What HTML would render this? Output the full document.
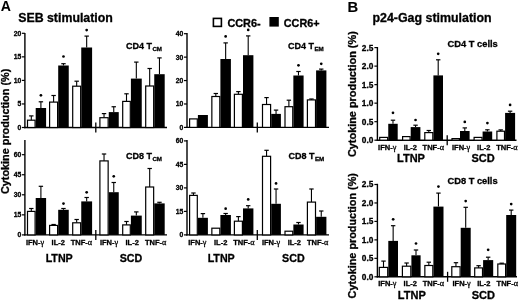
<!DOCTYPE html>
<html><head><meta charset="utf-8"><style>
html,body{margin:0;padding:0;background:#fff;width:520px;height:300px;overflow:hidden}
svg{display:block;filter:blur(0.35px);font-family:"Liberation Sans",sans-serif;font-weight:bold}
.g{font-family:"Liberation Serif",serif;font-weight:normal}
text{stroke:#000;stroke-width:0.3px;paint-order:stroke}
</style></head><body>
<svg width="520" height="300" viewBox="0 0 520 300" font-weight="bold" fill="#000">
<rect width="520" height="300" fill="#fff"/>
<text transform="translate(0.8,10.8) scale(0.93,1)" font-size="15.2" style="stroke-width:0">A</text>
<text x="18.2" y="22" font-size="12.35" text-anchor="start" >SEB stimulation</text>
<rect x="213.4" y="18.4" width="8" height="8" fill="#fff" stroke="#000" stroke-width="1.6"/>
<text x="227.4" y="27" font-size="10.9" text-anchor="start" >CCR6-</text>
<rect x="269.4" y="17" width="9.4" height="9.6" fill="#000"/>
<text x="283.8" y="27.3" font-size="10.8" text-anchor="start" >CCR6+</text>
<text transform="translate(9.2,131.4) rotate(-90)" x="0" y="0" font-size="10.85" text-anchor="middle">Cytokine production (%)</text>
<line x1="24.9" y1="33" x2="24.9" y2="128.2" stroke="#000" stroke-width="1.4"/>
<line x1="24.2" y1="127.5" x2="167" y2="127.5" stroke="#000" stroke-width="1.4"/>
<line x1="21.9" y1="127.50" x2="24.9" y2="127.50" stroke="#000" stroke-width="1.2"/>
<text x="21.3" y="129.95" font-size="6.8" text-anchor="end" >0</text>
<line x1="21.9" y1="103.95" x2="24.9" y2="103.95" stroke="#000" stroke-width="1.2"/>
<text x="21.3" y="106.40" font-size="6.8" text-anchor="end" >5</text>
<line x1="21.9" y1="80.40" x2="24.9" y2="80.40" stroke="#000" stroke-width="1.2"/>
<text x="21.3" y="82.85" font-size="6.8" text-anchor="end" >10</text>
<line x1="21.9" y1="56.85" x2="24.9" y2="56.85" stroke="#000" stroke-width="1.2"/>
<text x="21.3" y="59.30" font-size="6.8" text-anchor="end" >15</text>
<line x1="21.9" y1="33.30" x2="24.9" y2="33.30" stroke="#000" stroke-width="1.2"/>
<text x="21.3" y="35.75" font-size="6.8" text-anchor="end" >20</text>
<line x1="95.8" y1="122.5" x2="95.8" y2="132.5" stroke="#000" stroke-width="1.3"/>
<line x1="31.30" y1="115.9" x2="31.30" y2="120.2" stroke="#000" stroke-width="1.1"/>
<line x1="29.10" y1="115.9" x2="33.50" y2="115.9" stroke="#000" stroke-width="1.2"/>
<rect x="27.50" y="120.20" width="7.60" height="7.30" fill="#fff" stroke="#000" stroke-width="1.2"/>
<line x1="40.90" y1="101.8" x2="40.90" y2="108" stroke="#000" stroke-width="1.1"/>
<line x1="38.70" y1="101.8" x2="43.10" y2="101.8" stroke="#000" stroke-width="1.2"/>
<rect x="35.70" y="108.00" width="10.40" height="19.50" fill="#000"/>
<circle cx="40.90" cy="95.3" r="1.35"/>
<line x1="53.60" y1="95.5" x2="53.60" y2="102.10000000000001" stroke="#000" stroke-width="1.1"/>
<line x1="51.40" y1="95.5" x2="55.80" y2="95.5" stroke="#000" stroke-width="1.2"/>
<rect x="49.60" y="102.10" width="8.00" height="25.40" fill="#fff" stroke="#000" stroke-width="1.2"/>
<line x1="63.48" y1="63.7" x2="63.48" y2="65.5" stroke="#000" stroke-width="1.1"/>
<line x1="61.27" y1="63.7" x2="65.67" y2="63.7" stroke="#000" stroke-width="1.2"/>
<rect x="58.20" y="65.50" width="10.55" height="62.00" fill="#000"/>
<circle cx="63.48" cy="56.5" r="1.35"/>
<line x1="76.67" y1="81.2" x2="76.67" y2="86.2" stroke="#000" stroke-width="1.1"/>
<line x1="74.47" y1="81.2" x2="78.88" y2="81.2" stroke="#000" stroke-width="1.2"/>
<rect x="72.70" y="86.20" width="7.95" height="41.30" fill="#fff" stroke="#000" stroke-width="1.2"/>
<line x1="86.67" y1="36.1" x2="86.67" y2="47.5" stroke="#000" stroke-width="1.1"/>
<line x1="84.47" y1="36.1" x2="88.88" y2="36.1" stroke="#000" stroke-width="1.2"/>
<rect x="81.25" y="47.50" width="10.85" height="80.00" fill="#000"/>
<circle cx="86.67" cy="30.1" r="1.35"/>
<line x1="104.03" y1="113.6" x2="104.03" y2="117.7" stroke="#000" stroke-width="1.1"/>
<line x1="101.83" y1="113.6" x2="106.23" y2="113.6" stroke="#000" stroke-width="1.2"/>
<rect x="99.90" y="117.70" width="8.25" height="9.80" fill="#fff" stroke="#000" stroke-width="1.2"/>
<line x1="113.75" y1="106.75" x2="113.75" y2="112.1" stroke="#000" stroke-width="1.1"/>
<line x1="111.55" y1="106.75" x2="115.95" y2="106.75" stroke="#000" stroke-width="1.2"/>
<rect x="108.75" y="112.10" width="10.00" height="15.40" fill="#000"/>
<line x1="126.50" y1="93.8" x2="126.50" y2="101.4" stroke="#000" stroke-width="1.1"/>
<line x1="124.30" y1="93.8" x2="128.70" y2="93.8" stroke="#000" stroke-width="1.2"/>
<rect x="122.70" y="101.40" width="7.60" height="26.10" fill="#fff" stroke="#000" stroke-width="1.2"/>
<line x1="136.32" y1="62.1" x2="136.32" y2="78.6" stroke="#000" stroke-width="1.1"/>
<line x1="134.12" y1="62.1" x2="138.52" y2="62.1" stroke="#000" stroke-width="1.2"/>
<rect x="130.90" y="78.60" width="10.85" height="48.90" fill="#000"/>
<line x1="149.68" y1="68.5" x2="149.68" y2="86.0" stroke="#000" stroke-width="1.1"/>
<line x1="147.48" y1="68.5" x2="151.88" y2="68.5" stroke="#000" stroke-width="1.2"/>
<rect x="145.70" y="86.00" width="7.95" height="41.50" fill="#fff" stroke="#000" stroke-width="1.2"/>
<line x1="159.47" y1="57.9" x2="159.47" y2="74.2" stroke="#000" stroke-width="1.1"/>
<line x1="157.28" y1="57.9" x2="161.67" y2="57.9" stroke="#000" stroke-width="1.2"/>
<rect x="154.25" y="74.20" width="10.45" height="53.30" fill="#000"/>
<text x="126" y="49" font-size="9">CD4 T<tspan font-size="6.2" dy="2.4" dx="0.4">CM</tspan></text>
<line x1="187" y1="33" x2="187" y2="128.1" stroke="#000" stroke-width="1.4"/>
<line x1="186.3" y1="127.4" x2="329" y2="127.4" stroke="#000" stroke-width="1.4"/>
<line x1="184" y1="127.40" x2="187" y2="127.40" stroke="#000" stroke-width="1.2"/>
<text x="183.2" y="129.85" font-size="6.8" text-anchor="end" >0</text>
<line x1="184" y1="103.98" x2="187" y2="103.98" stroke="#000" stroke-width="1.2"/>
<text x="183.2" y="106.42" font-size="6.8" text-anchor="end" >10</text>
<line x1="184" y1="80.55" x2="187" y2="80.55" stroke="#000" stroke-width="1.2"/>
<text x="183.2" y="83.00" font-size="6.8" text-anchor="end" >20</text>
<line x1="184" y1="57.13" x2="187" y2="57.13" stroke="#000" stroke-width="1.2"/>
<text x="183.2" y="59.57" font-size="6.8" text-anchor="end" >30</text>
<line x1="184" y1="33.70" x2="187" y2="33.70" stroke="#000" stroke-width="1.2"/>
<text x="183.2" y="36.15" font-size="6.8" text-anchor="end" >40</text>
<line x1="257.3" y1="122.4" x2="257.3" y2="132.4" stroke="#000" stroke-width="1.3"/>
<rect x="189.60" y="118.90" width="7.70" height="8.50" fill="#fff" stroke="#000" stroke-width="1.2"/>
<rect x="197.90" y="115.00" width="10.00" height="12.40" fill="#000"/>
<line x1="215.82" y1="93.5" x2="215.82" y2="96.5" stroke="#000" stroke-width="1.1"/>
<line x1="213.62" y1="93.5" x2="218.02" y2="93.5" stroke="#000" stroke-width="1.2"/>
<rect x="211.85" y="96.50" width="7.95" height="30.90" fill="#fff" stroke="#000" stroke-width="1.2"/>
<line x1="225.65" y1="42.9" x2="225.65" y2="59" stroke="#000" stroke-width="1.1"/>
<line x1="223.45" y1="42.9" x2="227.85" y2="42.9" stroke="#000" stroke-width="1.2"/>
<rect x="220.40" y="59.00" width="10.50" height="68.40" fill="#000"/>
<circle cx="225.65" cy="36.4" r="1.35"/>
<line x1="238.40" y1="91.6" x2="238.40" y2="94.30000000000001" stroke="#000" stroke-width="1.1"/>
<line x1="236.20" y1="91.6" x2="240.60" y2="91.6" stroke="#000" stroke-width="1.2"/>
<rect x="234.40" y="94.30" width="8.00" height="33.10" fill="#fff" stroke="#000" stroke-width="1.2"/>
<line x1="248.20" y1="35.9" x2="248.20" y2="55.2" stroke="#000" stroke-width="1.1"/>
<line x1="246.00" y1="35.9" x2="250.40" y2="35.9" stroke="#000" stroke-width="1.2"/>
<rect x="243.00" y="55.20" width="10.40" height="72.20" fill="#000"/>
<circle cx="248.20" cy="29.900000000000002" r="1.35"/>
<line x1="266.55" y1="97.6" x2="266.55" y2="104.5" stroke="#000" stroke-width="1.1"/>
<line x1="264.35" y1="97.6" x2="268.75" y2="97.6" stroke="#000" stroke-width="1.2"/>
<rect x="262.50" y="104.50" width="8.10" height="22.90" fill="#fff" stroke="#000" stroke-width="1.2"/>
<line x1="276.05" y1="110.1" x2="276.05" y2="113.9" stroke="#000" stroke-width="1.1"/>
<line x1="273.85" y1="110.1" x2="278.25" y2="110.1" stroke="#000" stroke-width="1.2"/>
<rect x="271.20" y="113.90" width="9.70" height="13.50" fill="#000"/>
<line x1="288.88" y1="100.2" x2="288.88" y2="106.7" stroke="#000" stroke-width="1.1"/>
<line x1="286.68" y1="100.2" x2="291.07" y2="100.2" stroke="#000" stroke-width="1.2"/>
<rect x="285.00" y="106.70" width="7.75" height="20.70" fill="#fff" stroke="#000" stroke-width="1.2"/>
<line x1="298.48" y1="71.5" x2="298.48" y2="75.5" stroke="#000" stroke-width="1.1"/>
<line x1="296.28" y1="71.5" x2="300.68" y2="71.5" stroke="#000" stroke-width="1.2"/>
<rect x="293.35" y="75.50" width="10.25" height="51.90" fill="#000"/>
<circle cx="298.48" cy="65.3" r="1.35"/>
<line x1="311.45" y1="99.0" x2="311.45" y2="99.9" stroke="#000" stroke-width="1.1"/>
<line x1="309.25" y1="99.0" x2="313.65" y2="99.0" stroke="#000" stroke-width="1.2"/>
<rect x="307.40" y="99.90" width="8.10" height="27.50" fill="#fff" stroke="#000" stroke-width="1.2"/>
<line x1="321.25" y1="69.1" x2="321.25" y2="70.4" stroke="#000" stroke-width="1.1"/>
<line x1="319.05" y1="69.1" x2="323.45" y2="69.1" stroke="#000" stroke-width="1.2"/>
<rect x="316.10" y="70.40" width="10.30" height="57.00" fill="#000"/>
<circle cx="321.25" cy="63.8" r="1.35"/>
<text x="288" y="49" font-size="9">CD4 T<tspan font-size="6.2" dy="2.4" dx="0.4">EM</tspan></text>
<line x1="24.9" y1="140" x2="24.9" y2="235.6" stroke="#000" stroke-width="1.4"/>
<line x1="24.2" y1="234.9" x2="167" y2="234.9" stroke="#000" stroke-width="1.4"/>
<line x1="21.9" y1="234.90" x2="24.9" y2="234.90" stroke="#000" stroke-width="1.2"/>
<text x="21.3" y="237.35" font-size="6.8" text-anchor="end" >0</text>
<line x1="21.9" y1="214.85" x2="24.9" y2="214.85" stroke="#000" stroke-width="1.2"/>
<text x="21.3" y="217.30" font-size="6.8" text-anchor="end" >15</text>
<line x1="21.9" y1="194.80" x2="24.9" y2="194.80" stroke="#000" stroke-width="1.2"/>
<text x="21.3" y="197.25" font-size="6.8" text-anchor="end" >30</text>
<line x1="21.9" y1="174.75" x2="24.9" y2="174.75" stroke="#000" stroke-width="1.2"/>
<text x="21.3" y="177.20" font-size="6.8" text-anchor="end" >45</text>
<line x1="21.9" y1="154.70" x2="24.9" y2="154.70" stroke="#000" stroke-width="1.2"/>
<text x="21.3" y="157.15" font-size="6.8" text-anchor="end" >60</text>
<line x1="95.8" y1="229.9" x2="95.8" y2="239.9" stroke="#000" stroke-width="1.3"/>
<line x1="31.30" y1="208.5" x2="31.30" y2="211.4" stroke="#000" stroke-width="1.1"/>
<line x1="29.10" y1="208.5" x2="33.50" y2="208.5" stroke="#000" stroke-width="1.2"/>
<rect x="27.50" y="211.40" width="7.60" height="23.50" fill="#fff" stroke="#000" stroke-width="1.2"/>
<line x1="40.90" y1="186.3" x2="40.90" y2="198" stroke="#000" stroke-width="1.1"/>
<line x1="38.70" y1="186.3" x2="43.10" y2="186.3" stroke="#000" stroke-width="1.2"/>
<rect x="35.70" y="198.00" width="10.40" height="36.90" fill="#000"/>
<line x1="53.60" y1="224.5" x2="53.60" y2="225.4" stroke="#000" stroke-width="1.1"/>
<line x1="51.40" y1="224.5" x2="55.80" y2="224.5" stroke="#000" stroke-width="1.2"/>
<rect x="49.60" y="225.40" width="8.00" height="9.50" fill="#fff" stroke="#000" stroke-width="1.2"/>
<line x1="63.48" y1="208.5" x2="63.48" y2="209.8" stroke="#000" stroke-width="1.1"/>
<line x1="61.27" y1="208.5" x2="65.67" y2="208.5" stroke="#000" stroke-width="1.2"/>
<rect x="58.20" y="209.80" width="10.55" height="25.10" fill="#000"/>
<circle cx="63.48" cy="203.60000000000002" r="1.35"/>
<line x1="76.67" y1="219.5" x2="76.67" y2="222.8" stroke="#000" stroke-width="1.1"/>
<line x1="74.47" y1="219.5" x2="78.88" y2="219.5" stroke="#000" stroke-width="1.2"/>
<rect x="72.70" y="222.80" width="7.95" height="12.10" fill="#fff" stroke="#000" stroke-width="1.2"/>
<line x1="86.67" y1="197.5" x2="86.67" y2="201.4" stroke="#000" stroke-width="1.1"/>
<line x1="84.47" y1="197.5" x2="88.88" y2="197.5" stroke="#000" stroke-width="1.2"/>
<rect x="81.25" y="201.40" width="10.85" height="33.50" fill="#000"/>
<circle cx="86.67" cy="192.3" r="1.35"/>
<line x1="104.03" y1="154.0" x2="104.03" y2="160.9" stroke="#000" stroke-width="1.1"/>
<line x1="101.83" y1="154.0" x2="106.23" y2="154.0" stroke="#000" stroke-width="1.2"/>
<rect x="99.90" y="160.90" width="8.25" height="74.00" fill="#fff" stroke="#000" stroke-width="1.2"/>
<line x1="113.75" y1="182.5" x2="113.75" y2="192.2" stroke="#000" stroke-width="1.1"/>
<line x1="111.55" y1="182.5" x2="115.95" y2="182.5" stroke="#000" stroke-width="1.2"/>
<rect x="108.75" y="192.20" width="10.00" height="42.70" fill="#000"/>
<circle cx="113.75" cy="176.3" r="1.35"/>
<line x1="126.50" y1="221.5" x2="126.50" y2="224.9" stroke="#000" stroke-width="1.1"/>
<line x1="124.30" y1="221.5" x2="128.70" y2="221.5" stroke="#000" stroke-width="1.2"/>
<rect x="122.70" y="224.90" width="7.60" height="10.00" fill="#fff" stroke="#000" stroke-width="1.2"/>
<line x1="136.32" y1="211.9" x2="136.32" y2="215.6" stroke="#000" stroke-width="1.1"/>
<line x1="134.12" y1="211.9" x2="138.52" y2="211.9" stroke="#000" stroke-width="1.2"/>
<rect x="130.90" y="215.60" width="10.85" height="19.30" fill="#000"/>
<line x1="149.68" y1="168.5" x2="149.68" y2="187.0" stroke="#000" stroke-width="1.1"/>
<line x1="147.48" y1="168.5" x2="151.88" y2="168.5" stroke="#000" stroke-width="1.2"/>
<rect x="145.70" y="187.00" width="7.95" height="47.90" fill="#fff" stroke="#000" stroke-width="1.2"/>
<line x1="159.47" y1="202.3" x2="159.47" y2="203.4" stroke="#000" stroke-width="1.1"/>
<line x1="157.28" y1="202.3" x2="161.67" y2="202.3" stroke="#000" stroke-width="1.2"/>
<rect x="154.25" y="203.40" width="10.45" height="31.50" fill="#000"/>
<text x="35.00" y="244.6" font-size="7.5" text-anchor="middle" >IFN-<tspan class="g" font-size="1.1em">γ</tspan></text>
<text x="58.25" y="244.6" font-size="7.5" text-anchor="middle" >IL-2</text>
<text x="81.40" y="244.6" font-size="7.5" text-anchor="middle" >TNF-<tspan class="g" font-size="1.1em">α</tspan></text>
<text x="109.05" y="244.6" font-size="7.5" text-anchor="middle" >IFN-<tspan class="g" font-size="1.1em">γ</tspan></text>
<text x="132.15" y="244.6" font-size="7.5" text-anchor="middle" >IL-2</text>
<text x="155.60" y="244.6" font-size="7.5" text-anchor="middle" >TNF-<tspan class="g" font-size="1.1em">α</tspan></text>
<text x="59.20" y="262.3" font-size="10.7" text-anchor="middle" >LTNP</text>
<text x="131.00" y="262.3" font-size="10.7" text-anchor="middle" >SCD</text>
<text x="126" y="159" font-size="9">CD8 T<tspan font-size="6.2" dy="2.4" dx="0.4">CM</tspan></text>
<line x1="187" y1="140" x2="187" y2="235.6" stroke="#000" stroke-width="1.4"/>
<line x1="186.3" y1="234.9" x2="329" y2="234.9" stroke="#000" stroke-width="1.4"/>
<line x1="184" y1="234.90" x2="187" y2="234.90" stroke="#000" stroke-width="1.2"/>
<text x="183.2" y="237.35" font-size="6.8" text-anchor="end" >0</text>
<line x1="184" y1="211.40" x2="187" y2="211.40" stroke="#000" stroke-width="1.2"/>
<text x="183.2" y="213.85" font-size="6.8" text-anchor="end" >15</text>
<line x1="184" y1="187.90" x2="187" y2="187.90" stroke="#000" stroke-width="1.2"/>
<text x="183.2" y="190.35" font-size="6.8" text-anchor="end" >30</text>
<line x1="184" y1="164.40" x2="187" y2="164.40" stroke="#000" stroke-width="1.2"/>
<text x="183.2" y="166.85" font-size="6.8" text-anchor="end" >45</text>
<line x1="184" y1="140.90" x2="187" y2="140.90" stroke="#000" stroke-width="1.2"/>
<text x="183.2" y="143.35" font-size="6.8" text-anchor="end" >60</text>
<line x1="257.3" y1="229.9" x2="257.3" y2="239.9" stroke="#000" stroke-width="1.3"/>
<line x1="193.45" y1="193.0" x2="193.45" y2="195.4" stroke="#000" stroke-width="1.1"/>
<line x1="191.25" y1="193.0" x2="195.65" y2="193.0" stroke="#000" stroke-width="1.2"/>
<rect x="189.60" y="195.40" width="7.70" height="39.50" fill="#fff" stroke="#000" stroke-width="1.2"/>
<line x1="202.90" y1="213.6" x2="202.90" y2="217.8" stroke="#000" stroke-width="1.1"/>
<line x1="200.70" y1="213.6" x2="205.10" y2="213.6" stroke="#000" stroke-width="1.2"/>
<rect x="197.90" y="217.80" width="10.00" height="17.10" fill="#000"/>
<rect x="211.85" y="228.20" width="7.95" height="6.70" fill="#fff" stroke="#000" stroke-width="1.2"/>
<line x1="225.65" y1="213.5" x2="225.65" y2="215" stroke="#000" stroke-width="1.1"/>
<line x1="223.45" y1="213.5" x2="227.85" y2="213.5" stroke="#000" stroke-width="1.2"/>
<rect x="220.40" y="215.00" width="10.50" height="19.90" fill="#000"/>
<circle cx="225.65" cy="208.70000000000002" r="1.35"/>
<line x1="238.40" y1="216.6" x2="238.40" y2="221.20000000000002" stroke="#000" stroke-width="1.1"/>
<line x1="236.20" y1="216.6" x2="240.60" y2="216.6" stroke="#000" stroke-width="1.2"/>
<rect x="234.40" y="221.20" width="8.00" height="13.70" fill="#fff" stroke="#000" stroke-width="1.2"/>
<line x1="248.20" y1="205.7" x2="248.20" y2="208.4" stroke="#000" stroke-width="1.1"/>
<line x1="246.00" y1="205.7" x2="250.40" y2="205.7" stroke="#000" stroke-width="1.2"/>
<rect x="243.00" y="208.40" width="10.40" height="26.50" fill="#000"/>
<circle cx="248.20" cy="199.4" r="1.35"/>
<line x1="266.55" y1="150.3" x2="266.55" y2="156.3" stroke="#000" stroke-width="1.1"/>
<line x1="264.35" y1="150.3" x2="268.75" y2="150.3" stroke="#000" stroke-width="1.2"/>
<rect x="262.50" y="156.30" width="8.10" height="78.60" fill="#fff" stroke="#000" stroke-width="1.2"/>
<line x1="276.05" y1="189.0" x2="276.05" y2="203.8" stroke="#000" stroke-width="1.1"/>
<line x1="273.85" y1="189.0" x2="278.25" y2="189.0" stroke="#000" stroke-width="1.2"/>
<rect x="271.20" y="203.80" width="9.70" height="31.10" fill="#000"/>
<circle cx="276.05" cy="183.4" r="1.35"/>
<rect x="285.00" y="231.20" width="7.75" height="3.70" fill="#fff" stroke="#000" stroke-width="1.2"/>
<line x1="298.48" y1="222.5" x2="298.48" y2="224.5" stroke="#000" stroke-width="1.1"/>
<line x1="296.28" y1="222.5" x2="300.68" y2="222.5" stroke="#000" stroke-width="1.2"/>
<rect x="293.35" y="224.50" width="10.25" height="10.40" fill="#000"/>
<line x1="311.45" y1="189.0" x2="311.45" y2="202.1" stroke="#000" stroke-width="1.1"/>
<line x1="309.25" y1="189.0" x2="313.65" y2="189.0" stroke="#000" stroke-width="1.2"/>
<rect x="307.40" y="202.10" width="8.10" height="32.80" fill="#fff" stroke="#000" stroke-width="1.2"/>
<line x1="321.25" y1="211.0" x2="321.25" y2="216.8" stroke="#000" stroke-width="1.1"/>
<line x1="319.05" y1="211.0" x2="323.45" y2="211.0" stroke="#000" stroke-width="1.2"/>
<rect x="316.10" y="216.80" width="10.30" height="18.10" fill="#000"/>
<text x="197.35" y="244.6" font-size="7.5" text-anchor="middle" >IFN-<tspan class="g" font-size="1.1em">γ</tspan></text>
<text x="220.65" y="244.6" font-size="7.5" text-anchor="middle" >IL-2</text>
<text x="243.90" y="244.6" font-size="7.5" text-anchor="middle" >TNF-<tspan class="g" font-size="1.1em">α</tspan></text>
<text x="271.05" y="244.6" font-size="7.5" text-anchor="middle" >IFN-<tspan class="g" font-size="1.1em">γ</tspan></text>
<text x="294.35" y="244.6" font-size="7.5" text-anchor="middle" >IL-2</text>
<text x="317.60" y="244.6" font-size="7.5" text-anchor="middle" >TNF-<tspan class="g" font-size="1.1em">α</tspan></text>
<text x="221.20" y="262.3" font-size="10.7" text-anchor="middle" >LTNP</text>
<text x="293.40" y="262.3" font-size="10.7" text-anchor="middle" >SCD</text>
<text x="288.5" y="159" font-size="9">CD8 T<tspan font-size="6.2" dy="2.4" dx="0.4">EM</tspan></text>
<text x="347.4" y="11.5" font-size="14.8" style="stroke-width:0.1px">B</text>
<text x="372.5" y="22" font-size="12.4" text-anchor="start" >p24-Gag stimulation</text>
<text transform="translate(356.4,94.15) rotate(-90)" x="0" y="0" font-size="10.9" text-anchor="middle">Cytokine production (%)</text>
<text transform="translate(356.4,235.75) rotate(-90)" x="0" y="0" font-size="10.85" text-anchor="middle">Cytokine production (%)</text>
<line x1="377.4" y1="47" x2="377.4" y2="140.89999999999998" stroke="#000" stroke-width="1.4"/>
<line x1="376.7" y1="140.2" x2="516.5" y2="140.2" stroke="#000" stroke-width="1.4"/>
<line x1="374.4" y1="140.20" x2="377.4" y2="140.20" stroke="#000" stroke-width="1.2"/>
<text x="373.4" y="143.19" font-size="8.3" text-anchor="end" >0.0</text>
<line x1="374.4" y1="121.68" x2="377.4" y2="121.68" stroke="#000" stroke-width="1.2"/>
<text x="373.4" y="124.67" font-size="8.3" text-anchor="end" >0.5</text>
<line x1="374.4" y1="103.16" x2="377.4" y2="103.16" stroke="#000" stroke-width="1.2"/>
<text x="373.4" y="106.15" font-size="8.3" text-anchor="end" >1.0</text>
<line x1="374.4" y1="84.64" x2="377.4" y2="84.64" stroke="#000" stroke-width="1.2"/>
<text x="373.4" y="87.63" font-size="8.3" text-anchor="end" >1.5</text>
<line x1="374.4" y1="66.12" x2="377.4" y2="66.12" stroke="#000" stroke-width="1.2"/>
<text x="373.4" y="69.11" font-size="8.3" text-anchor="end" >2.0</text>
<line x1="374.4" y1="47.60" x2="377.4" y2="47.60" stroke="#000" stroke-width="1.2"/>
<text x="373.4" y="50.59" font-size="8.3" text-anchor="end" >2.5</text>
<line x1="447.2" y1="135.2" x2="447.2" y2="145.2" stroke="#000" stroke-width="1.3"/>
<rect x="379.70" y="137.40" width="7.95" height="2.80" fill="#fff" stroke="#000" stroke-width="1.2"/>
<line x1="392.98" y1="120.2" x2="392.98" y2="123.8" stroke="#000" stroke-width="1.1"/>
<line x1="390.78" y1="120.2" x2="395.18" y2="120.2" stroke="#000" stroke-width="1.2"/>
<rect x="388.25" y="123.80" width="9.45" height="16.40" fill="#000"/>
<circle cx="392.98" cy="112.8" r="1.35"/>
<rect x="402.60" y="136.60" width="7.50" height="3.60" fill="#fff" stroke="#000" stroke-width="1.2"/>
<line x1="415.55" y1="125.2" x2="415.55" y2="127.1" stroke="#000" stroke-width="1.1"/>
<line x1="413.35" y1="125.2" x2="417.75" y2="125.2" stroke="#000" stroke-width="1.2"/>
<rect x="410.70" y="127.10" width="9.70" height="13.10" fill="#000"/>
<circle cx="415.55" cy="120.0" r="1.35"/>
<line x1="428.80" y1="130.5" x2="428.80" y2="132.6" stroke="#000" stroke-width="1.1"/>
<line x1="426.60" y1="130.5" x2="431.00" y2="130.5" stroke="#000" stroke-width="1.2"/>
<rect x="424.80" y="132.60" width="8.00" height="7.60" fill="#fff" stroke="#000" stroke-width="1.2"/>
<line x1="438.20" y1="59.8" x2="438.20" y2="75.4" stroke="#000" stroke-width="1.1"/>
<line x1="436.00" y1="59.8" x2="440.40" y2="59.8" stroke="#000" stroke-width="1.2"/>
<rect x="433.40" y="75.40" width="9.60" height="64.80" fill="#000"/>
<circle cx="438.20" cy="53.8" r="1.35"/>
<rect x="452.00" y="138.60" width="7.40" height="1.60" fill="#fff" stroke="#000" stroke-width="1.2"/>
<line x1="464.80" y1="127.9" x2="464.80" y2="131" stroke="#000" stroke-width="1.1"/>
<line x1="462.60" y1="127.9" x2="467.00" y2="127.9" stroke="#000" stroke-width="1.2"/>
<rect x="460.00" y="131.00" width="9.60" height="9.20" fill="#000"/>
<circle cx="464.80" cy="121.89999999999999" r="1.35"/>
<rect x="474.10" y="137.40" width="7.90" height="2.80" fill="#fff" stroke="#000" stroke-width="1.2"/>
<line x1="487.40" y1="129.8" x2="487.40" y2="131.5" stroke="#000" stroke-width="1.1"/>
<line x1="485.20" y1="129.8" x2="489.60" y2="129.8" stroke="#000" stroke-width="1.2"/>
<rect x="482.60" y="131.50" width="9.60" height="8.70" fill="#000"/>
<circle cx="487.40" cy="123.1" r="1.35"/>
<line x1="500.70" y1="129.9" x2="500.70" y2="131.20000000000002" stroke="#000" stroke-width="1.1"/>
<line x1="498.50" y1="129.9" x2="502.90" y2="129.9" stroke="#000" stroke-width="1.2"/>
<rect x="496.90" y="131.20" width="7.60" height="9.00" fill="#fff" stroke="#000" stroke-width="1.2"/>
<line x1="510.10" y1="111.2" x2="510.10" y2="112.9" stroke="#000" stroke-width="1.1"/>
<line x1="507.90" y1="111.2" x2="512.30" y2="111.2" stroke="#000" stroke-width="1.2"/>
<rect x="505.10" y="112.90" width="10.00" height="27.30" fill="#000"/>
<circle cx="510.10" cy="104.89999999999999" r="1.35"/>
<text x="387.20" y="149.8" font-size="7.5" text-anchor="middle" >IFN-<tspan class="g" font-size="1.1em">γ</tspan></text>
<text x="410.30" y="149.8" font-size="7.5" text-anchor="middle" >IL-2</text>
<text x="433.30" y="149.8" font-size="7.5" text-anchor="middle" >TNF-<tspan class="g" font-size="1.1em">α</tspan></text>
<text x="461.10" y="149.8" font-size="7.5" text-anchor="middle" >IFN-<tspan class="g" font-size="1.1em">γ</tspan></text>
<text x="483.75" y="149.8" font-size="7.5" text-anchor="middle" >IL-2</text>
<text x="506.85" y="149.8" font-size="7.5" text-anchor="middle" >TNF-<tspan class="g" font-size="1.1em">α</tspan></text>
<text x="411.00" y="161.6" font-size="11" text-anchor="middle" >LTNP</text>
<text x="483.00" y="161.6" font-size="11" text-anchor="middle" >SCD</text>
<text x="447.6" y="47.4" font-size="9.3">CD4 T cells</text>
<line x1="377.4" y1="183.8" x2="377.4" y2="277.5" stroke="#000" stroke-width="1.4"/>
<line x1="376.7" y1="276.8" x2="517" y2="276.8" stroke="#000" stroke-width="1.4"/>
<line x1="374.4" y1="276.80" x2="377.4" y2="276.80" stroke="#000" stroke-width="1.2"/>
<text x="373.4" y="279.79" font-size="8.3" text-anchor="end" >0.0</text>
<line x1="374.4" y1="258.34" x2="377.4" y2="258.34" stroke="#000" stroke-width="1.2"/>
<text x="373.4" y="261.33" font-size="8.3" text-anchor="end" >0.5</text>
<line x1="374.4" y1="239.88" x2="377.4" y2="239.88" stroke="#000" stroke-width="1.2"/>
<text x="373.4" y="242.87" font-size="8.3" text-anchor="end" >1.0</text>
<line x1="374.4" y1="221.42" x2="377.4" y2="221.42" stroke="#000" stroke-width="1.2"/>
<text x="373.4" y="224.41" font-size="8.3" text-anchor="end" >1.5</text>
<line x1="374.4" y1="202.96" x2="377.4" y2="202.96" stroke="#000" stroke-width="1.2"/>
<text x="373.4" y="205.95" font-size="8.3" text-anchor="end" >2.0</text>
<line x1="374.4" y1="184.50" x2="377.4" y2="184.50" stroke="#000" stroke-width="1.2"/>
<text x="373.4" y="187.49" font-size="8.3" text-anchor="end" >2.5</text>
<line x1="447.6" y1="271.8" x2="447.6" y2="281.8" stroke="#000" stroke-width="1.3"/>
<line x1="383.50" y1="261.1" x2="383.50" y2="267.4" stroke="#000" stroke-width="1.1"/>
<line x1="381.30" y1="261.1" x2="385.70" y2="261.1" stroke="#000" stroke-width="1.2"/>
<rect x="379.30" y="267.40" width="8.40" height="9.40" fill="#fff" stroke="#000" stroke-width="1.2"/>
<line x1="393.15" y1="225.7" x2="393.15" y2="240.9" stroke="#000" stroke-width="1.1"/>
<line x1="390.95" y1="225.7" x2="395.35" y2="225.7" stroke="#000" stroke-width="1.2"/>
<rect x="388.30" y="240.90" width="9.70" height="35.90" fill="#000"/>
<circle cx="393.15" cy="219.3" r="1.35"/>
<line x1="406.60" y1="263.0" x2="406.60" y2="266.2" stroke="#000" stroke-width="1.1"/>
<line x1="404.40" y1="263.0" x2="408.80" y2="263.0" stroke="#000" stroke-width="1.2"/>
<rect x="402.40" y="266.20" width="8.40" height="10.60" fill="#fff" stroke="#000" stroke-width="1.2"/>
<line x1="416.00" y1="250.0" x2="416.00" y2="255.3" stroke="#000" stroke-width="1.1"/>
<line x1="413.80" y1="250.0" x2="418.20" y2="250.0" stroke="#000" stroke-width="1.2"/>
<rect x="411.40" y="255.30" width="9.20" height="21.50" fill="#000"/>
<circle cx="416.00" cy="243.5" r="1.35"/>
<line x1="428.82" y1="262.2" x2="428.82" y2="265.5" stroke="#000" stroke-width="1.1"/>
<line x1="426.62" y1="262.2" x2="431.02" y2="262.2" stroke="#000" stroke-width="1.2"/>
<rect x="424.85" y="265.50" width="7.95" height="11.30" fill="#fff" stroke="#000" stroke-width="1.2"/>
<line x1="438.45" y1="193.1" x2="438.45" y2="206.6" stroke="#000" stroke-width="1.1"/>
<line x1="436.25" y1="193.1" x2="440.65" y2="193.1" stroke="#000" stroke-width="1.2"/>
<rect x="433.40" y="206.60" width="10.10" height="70.20" fill="#000"/>
<circle cx="438.45" cy="186.60000000000002" r="1.35"/>
<line x1="455.95" y1="262.7" x2="455.95" y2="266.7" stroke="#000" stroke-width="1.1"/>
<line x1="453.75" y1="262.7" x2="458.15" y2="262.7" stroke="#000" stroke-width="1.2"/>
<rect x="451.80" y="266.70" width="8.30" height="10.10" fill="#fff" stroke="#000" stroke-width="1.2"/>
<line x1="465.70" y1="207.3" x2="465.70" y2="227.8" stroke="#000" stroke-width="1.1"/>
<line x1="463.50" y1="207.3" x2="467.90" y2="207.3" stroke="#000" stroke-width="1.2"/>
<rect x="460.70" y="227.80" width="10.00" height="49.00" fill="#000"/>
<circle cx="465.70" cy="201.10000000000002" r="1.35"/>
<line x1="478.60" y1="265.7" x2="478.60" y2="267.9" stroke="#000" stroke-width="1.1"/>
<line x1="476.40" y1="265.7" x2="480.80" y2="265.7" stroke="#000" stroke-width="1.2"/>
<rect x="474.70" y="267.90" width="7.80" height="8.90" fill="#fff" stroke="#000" stroke-width="1.2"/>
<line x1="488.15" y1="257.2" x2="488.15" y2="260.1" stroke="#000" stroke-width="1.1"/>
<line x1="485.95" y1="257.2" x2="490.35" y2="257.2" stroke="#000" stroke-width="1.2"/>
<rect x="483.10" y="260.10" width="10.10" height="16.70" fill="#000"/>
<circle cx="488.15" cy="249.8" r="1.35"/>
<line x1="501.70" y1="263.2" x2="501.70" y2="264.0" stroke="#000" stroke-width="1.1"/>
<line x1="499.50" y1="263.2" x2="503.90" y2="263.2" stroke="#000" stroke-width="1.2"/>
<rect x="497.80" y="264.00" width="7.80" height="12.80" fill="#fff" stroke="#000" stroke-width="1.2"/>
<line x1="511.20" y1="210.1" x2="511.20" y2="215" stroke="#000" stroke-width="1.1"/>
<line x1="509.00" y1="210.1" x2="513.40" y2="210.1" stroke="#000" stroke-width="1.2"/>
<rect x="506.20" y="215.00" width="10.00" height="61.80" fill="#000"/>
<circle cx="511.20" cy="204.10000000000002" r="1.35"/>
<text x="387.35" y="286.3" font-size="7.5" text-anchor="middle" >IFN-<tspan class="g" font-size="1.1em">γ</tspan></text>
<text x="410.25" y="286.3" font-size="7.5" text-anchor="middle" >IL-2</text>
<text x="433.35" y="286.3" font-size="7.5" text-anchor="middle" >TNF-<tspan class="g" font-size="1.1em">α</tspan></text>
<text x="461.60" y="286.3" font-size="7.5" text-anchor="middle" >IFN-<tspan class="g" font-size="1.1em">γ</tspan></text>
<text x="483.85" y="286.3" font-size="7.5" text-anchor="middle" >IL-2</text>
<text x="507.25" y="286.3" font-size="7.5" text-anchor="middle" >TNF-<tspan class="g" font-size="1.1em">α</tspan></text>
<text x="411.80" y="298.8" font-size="11" text-anchor="middle" >LTNP</text>
<text x="483.40" y="298.8" font-size="11" text-anchor="middle" >SCD</text>
<text x="447.5" y="184" font-size="9.3">CD8 T cells</text>
</svg>
</body></html>
